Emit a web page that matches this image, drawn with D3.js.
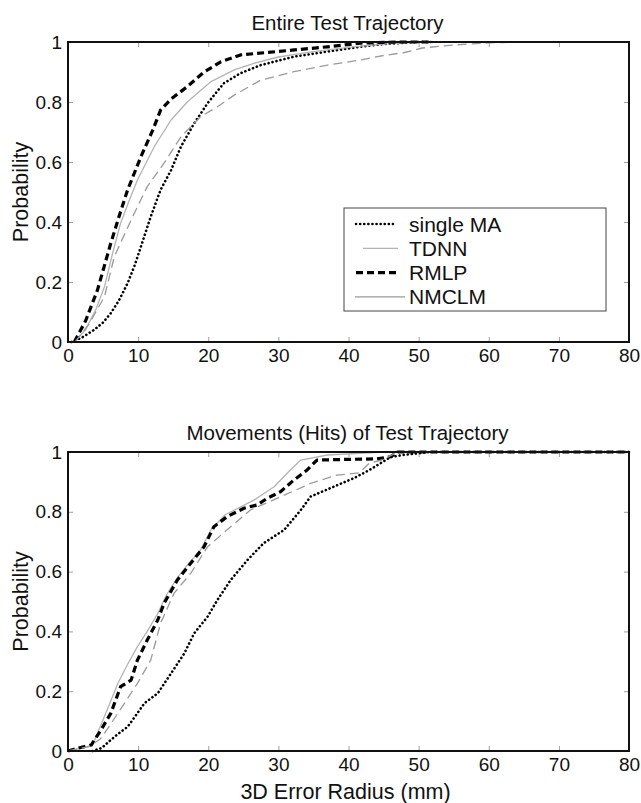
<!DOCTYPE html>
<html>
<head>
<meta charset="utf-8">
<script src="https://cdn.jsdelivr.net/npm/d3@7"></script>
<style>
  body { margin: 0; background: #fff; }
  text { font-family: "Liberation Sans", Arial, sans-serif; fill: #111; }
</style>
</head>
<body>
<svg id="main_svg" width="641" height="803"></svg>
<script>
// ---- data ----
let xTicks = [0, 10, 20, 30, 40, 50, 60, 70, 80];
let yTicks = [0, 0.2, 0.4, 0.6, 0.8, 1];
let seriesNames = ["single MA", "TDNN", "RMLP", "NMCLM"];

// top panel: entire test trajectory  [error radius, probability]
let topSingleMA = [[0.5,0],[2,0.015],[3.7,0.04],[5,0.065],[6.1,0.096],[7.3,0.14],[8.5,0.196],[9.5,0.255],[10.4,0.318],[11.8,0.418],[13.2,0.507],[14.7,0.573],[16.1,0.651],[18,0.729],[19.9,0.796],[22.2,0.862],[24.6,0.896],[27.5,0.923],[32.2,0.951],[37,0.968],[41.7,0.984],[45,0.993],[50,1],[52,1]];
let topTDNN = [[0.8,0],[2.5,0.04],[4,0.11],[5.2,0.184],[6.3,0.29],[7.5,0.396],[8.7,0.47],[9.9,0.54],[12.3,0.651],[14.7,0.74],[17,0.8],[20.4,0.868],[23.7,0.907],[26.5,0.929],[30,0.95],[35,0.968],[40,0.982],[45,0.993],[50,1],[60,1]];
let topRMLP = [[0.9,0],[2.5,0.07],[4.2,0.173],[6.1,0.329],[7.3,0.42],[8.5,0.507],[10.4,0.618],[12.1,0.707],[13.2,0.773],[14.7,0.81],[17,0.851],[19.4,0.9],[21.8,0.934],[24.6,0.957],[29.8,0.968],[37,0.984],[42,0.997],[47,1],[52,1]];
let topNMCLM = [[1,0],[3,0.06],[5.2,0.151],[6.6,0.284],[9,0.407],[11.3,0.518],[13.7,0.596],[16.1,0.684],[18.9,0.751],[21.3,0.784],[23.7,0.823],[27.5,0.873],[32.2,0.901],[37,0.923],[41.7,0.94],[45,0.955],[48,0.965],[50.5,0.98],[55,0.99],[60,0.997],[64,1],[70,1]];

// bottom panel: movements (hits) of test trajectory
let botSingleMA = [[3.5,0],[4.8,0.01],[6.1,0.037],[7.3,0.06],[8.5,0.081],[9.7,0.12],[10.9,0.16],[12.8,0.193],[14.7,0.26],[16.6,0.327],[18,0.394],[19.9,0.449],[21.3,0.505],[23.2,0.572],[25.6,0.639],[27.9,0.695],[30.8,0.739],[33.2,0.806],[34.6,0.851],[37.9,0.884],[40.8,0.913],[43,0.94],[46,0.983],[47.8,0.99],[51.7,1],[80,1]];
let botTDNN = [[0,0],[2,0.01],[3.5,0.02],[4.4,0.07],[5.8,0.15],[7.1,0.226],[8.5,0.29],[9.9,0.349],[11.3,0.4],[12.8,0.46],[14,0.52],[15.6,0.58],[17.3,0.63],[18.9,0.672],[20.4,0.74],[22.4,0.79],[24.5,0.815],[26.5,0.839],[29.4,0.884],[31.7,0.94],[33.2,0.973],[37,0.99],[45,1],[80,1]];
let botRMLP = [[0,0],[1.5,0.01],[3.3,0.02],[4.7,0.07],[6.1,0.126],[7.5,0.215],[9,0.237],[9.9,0.304],[11.3,0.371],[12.8,0.438],[13.7,0.494],[15.6,0.572],[17.5,0.628],[19.4,0.683],[20.8,0.75],[22.7,0.784],[25.1,0.812],[27,0.823],[28.4,0.845],[30.3,0.867],[32.2,0.906],[34.1,0.94],[35.5,0.973],[39.3,0.975],[44,0.977],[46,0.984],[47,1],[80,1]];
let botNMCLM = [[0,0],[3,0.015],[4.6,0.04],[5.8,0.08],[7.1,0.126],[9.9,0.226],[11.8,0.304],[13.2,0.427],[15.1,0.527],[17.5,0.594],[19.9,0.683],[23.2,0.75],[26,0.806],[30.3,0.85],[34.6,0.895],[38.4,0.923],[41.5,0.93],[43,0.963],[45,0.975],[47,1],[80,1]];

// ---- drawing ----
let svg = d3.select("#main_svg");
let left = 68, right = 629;

let styles = [
    { stroke: "#000", width: 2.6, dash: "0.1,4", cap: "round" },
    { stroke: "#b4b4b4", width: 1.3, dash: null, cap: "butt" },
    { stroke: "#000", width: 3.2, dash: "7,4", cap: "butt" },
    { stroke: "#9a9a9a", width: 1.3, dash: "9,5", cap: "butt" }
];

function drawPanel(top, bottom, title, series, showXLabel, showLegend) {
    let x = d3.scaleLinear().domain([0, 80]).range([left, right]);
    let y = d3.scaleLinear().domain([0, 1]).range([bottom, top]);
    let g = svg.append("g");

    let fmt = d => d === 0 ? "0" : d === 1 ? "1" : d3.format(".1f")(d);

    let xb = g.append("g").attr("transform", "translate(0," + bottom + ")")
        .call(d3.axisBottom(x).tickValues(xTicks).tickSize(-5).tickPadding(7).tickFormat(d3.format("d")));
    let yl = g.append("g").attr("transform", "translate(" + left + ",0)")
        .call(d3.axisLeft(y).tickValues(yTicks).tickSize(-5).tickPadding(6).tickFormat(fmt));
    let xt = g.append("g").attr("transform", "translate(0," + top + ")")
        .call(d3.axisTop(x).tickValues(xTicks).tickSize(-5).tickFormat(""));
    let yr = g.append("g").attr("transform", "translate(" + right + ",0)")
        .call(d3.axisRight(y).tickValues(yTicks).tickSize(-5).tickFormat(""));
    [xb, yl, xt, yr].forEach(a => {
        a.select(".domain").remove();
        a.selectAll("line").attr("stroke", "#a0a0a0").attr("stroke-width", 1);
        a.selectAll("text").attr("font-size", 19).attr("fill", "#111")
            .style("font-family", "'Liberation Sans', Arial, sans-serif");
    });

    let line = d3.line().x(d => x(d[0])).y(d => y(d[1]));
    series.forEach((s, i) => {
        let st = styles[i];
        g.append("path")
            .datum(s)
            .attr("d", line)
            .attr("fill", "none")
            .attr("stroke", st.stroke)
            .attr("stroke-width", st.width)
            .attr("stroke-dasharray", st.dash)
            .attr("stroke-linecap", st.cap)
            .attr("stroke-linejoin", "round");
    });

    g.append("rect")
        .attr("x", left).attr("y", top)
        .attr("width", right - left).attr("height", bottom - top)
        .attr("fill", "none").attr("stroke", "#111").attr("stroke-width", 2);

    g.append("text")
        .attr("x", (left + right) / 2 - 1).attr("y", top - 12)
        .attr("text-anchor", "middle").attr("font-size", 20.5)
        .text(title);

    g.append("text")
        .attr("transform", "translate(28," + (top + bottom) / 2 + ") rotate(-90)")
        .attr("text-anchor", "middle").attr("font-size", 21.5)
        .text("Probability");

    if (showXLabel) {
        g.append("text")
            .attr("x", (left + right) / 2 - 3).attr("y", bottom + 48)
            .attr("text-anchor", "middle").attr("font-size", 21.5)
            .text("3D Error Radius (mm)");
    }

    if (showLegend) {
        let lg = g.append("g");
        lg.append("rect")
            .attr("x", 344).attr("y", 208).attr("width", 262).attr("height", 103)
            .attr("fill", "#fff").attr("stroke", "#444").attr("stroke-width", 1);
        let sampleX = [[356, 396], [363, 398], [356, 396], [355, 405]];
        seriesNames.forEach((name, i) => {
            let st = styles[i];
            let yy = 224 + i * 24.3;
            lg.append("line")
                .attr("x1", sampleX[i][0]).attr("x2", sampleX[i][1])
                .attr("y1", yy).attr("y2", yy)
                .attr("stroke", st.stroke)
                .attr("stroke-width", st.width)
                .attr("stroke-dasharray", i === 3 ? null : st.dash)
                .attr("stroke-linecap", st.cap);
            lg.append("text")
                .attr("x", 409).attr("y", yy + 7.5)
                .attr("font-size", 21)
                .text(name);
        });
    }
}

drawPanel(42, 342, "Entire Test Trajectory", [topSingleMA, topTDNN, topRMLP, topNMCLM], false, true);
drawPanel(452, 751, "Movements (Hits) of Test Trajectory", [botSingleMA, botTDNN, botRMLP, botNMCLM], true, false);
</script>
</body>
</html>
